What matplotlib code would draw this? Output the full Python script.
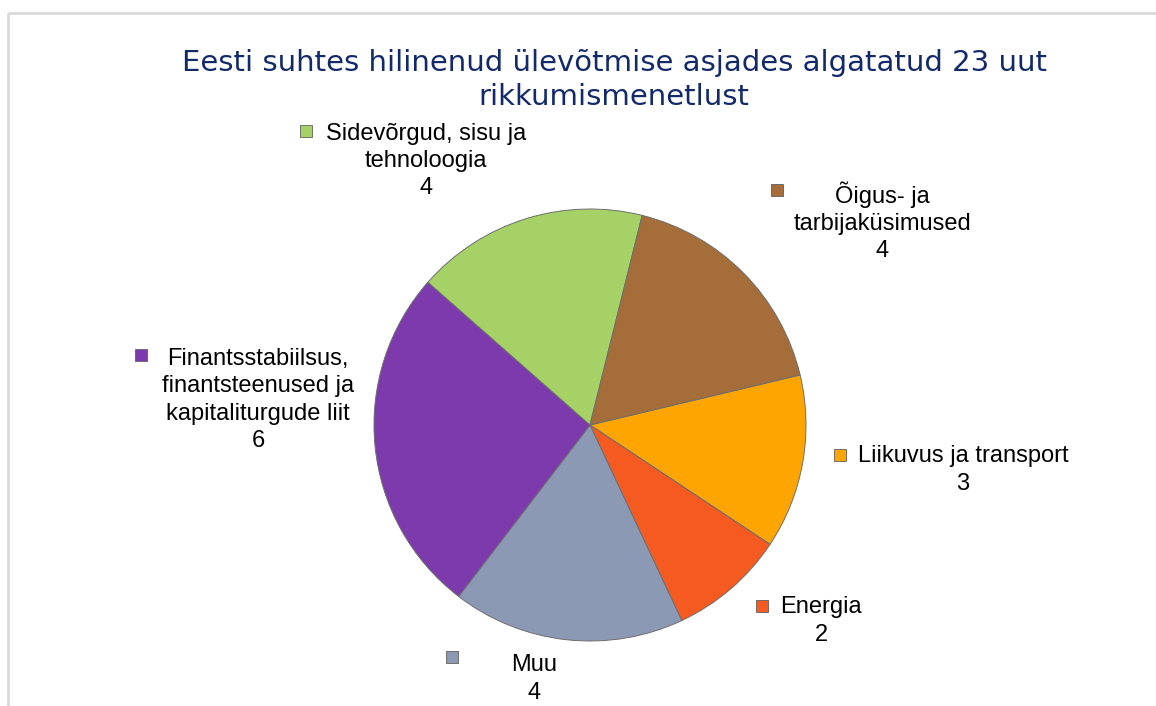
import numpy as np
import matplotlib.pyplot as plt
from matplotlib.patches import Rectangle

# data
labels = ['Liikuvus ja transport', 'Energia', 'Muu',
          'Finantsstabiilsus,\nfinantsteenused ja\nkapitaliturgude liit',
          'Sidevõrgud, sisu ja\ntehnoloogia', 'Õigus- ja\ntarbijaküsimused']
values = [3, 2, 4, 6, 4, 4]
colors = ['#FFA502', '#F55A20', '#8C99B4', '#7C3AAC', '#A5D166', '#A46D3A']
title = 'Eesti suhtes hilinenud ülevõtmise asjades algatatud 23 uut\nrikkumismenetlust'

# label block centres and legend key positions (pixels, y from top)
label_pos = [(963, 470), (821, 621), (534, 679), (258, 400), (426, 161), (882, 222)]
key_pos = [(840, 455), (762, 606), (452, 657), (141, 355), (306, 131), (777, 190)]

W, H = 1156, 706
fig = plt.figure(figsize=(W / 100, H / 100), dpi=100)
ax = fig.add_axes([0, 0, 1, 1])

# chart border (top and left visible)
ax.plot([8, W], [H - 13, H - 13], color='#D9D9D9', lw=2, solid_capstyle='butt')
ax.plot([8, 8], [H - 13, 0], color='#D9D9D9', lw=2, solid_capstyle='butt')

start = 13.4
wedges, _ = ax.pie(values, colors=colors, startangle=start, counterclock=False,
                   center=(590, H - 425), radius=216, frame=True,
                   wedgeprops=dict(edgecolor='#6E6E6E', linewidth=0.7))
ax.set_xlim(0, W)
ax.set_ylim(0, H)
ax.axis('off')

for lab, v, c, (lx, ly), (kx, ky) in zip(labels, values, colors, label_pos, key_pos):
    ax.text(lx, H - ly, f'{lab}\n{v}', ha='center', va='center', multialignment='center',
            fontsize=17, family='Liberation Sans', color='black', linespacing=1.3)
    ax.add_patch(Rectangle((kx - 6, H - ky - 6), 12, 12, facecolor=c,
                           edgecolor='#606060', linewidth=0.6))

fig.text(614 / W, 1 - 80 / H, title, ha='center', va='center', fontsize=21,
         family='DejaVu Sans', color='#132A6A', linespacing=1.3)

fig.savefig('out.png', dpi=100)
